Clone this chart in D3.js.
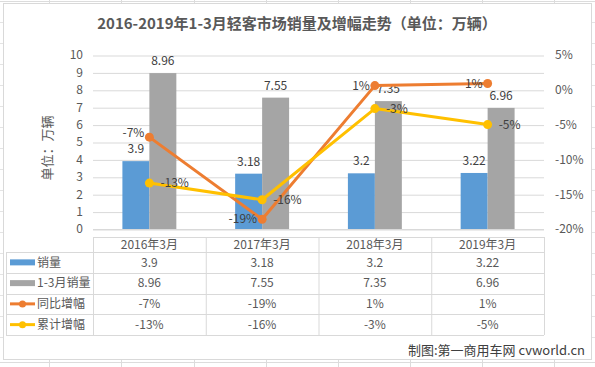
<!DOCTYPE html>
<html><head><meta charset="utf-8">
<script src="https://cdn.jsdelivr.net/npm/d3@7"></script>
<style>
html,body{margin:0;padding:0;background:#fff;}
svg{display:block;font-family:"Noto Sans CJK SC","Noto Sans",sans-serif;}
</style></head>
<body><svg id="c" width="595" height="367"></svg>
<script>
const categories = ["2016年3月","2017年3月","2018年3月","2019年3月"];
const sales = [3.9, 3.18, 3.2, 3.22];
const cumSales = [8.96, 7.55, 7.35, 6.96];
const yoyGrowth = [-6.8, -18.6, 0.6, 0.9];
const cumGrowth = [-13.4, -15.8, -2.7, -5.0];
const leftTicks = [0,1,2,3,4,5,6,7,8,9,10];
const rightTicks = [5,0,-5,-10,-15,-20];
const seriesNames = ["销量","1-3月销量","同比增幅","累计增幅"];
const title = "2016-2019年1-3月轻客市场销量及增幅走势（单位：万辆）";
const yTitle = "单位：万辆";
const footer = "制图:第一商用车网 cvworld.cn";

const colors = {blue:"#5B9BD5", gray:"#A5A5A5", orange:"#ED7D31", yellow:"#FFC000"};
const grid = "#d9d9d9", axisText = "#595959", labelText = "#404040";

const svg = d3.select("#c");

// spreadsheet background grid
const bg = svg.append("g");
[49,121,194,266,338,410,482,554].forEach(x=>bg.append("line").attr("x1",x+0.5).attr("x2",x+0.5).attr("y1",0).attr("y2",367).attr("stroke","#dcdcdc"));
[1,362].forEach(y=>bg.append("line").attr("x1",0).attr("x2",595).attr("y1",y+0.5).attr("y2",y+0.5).attr("stroke","#dcdcdc"));
[22,43,64,85,106,127,148,169,190,211,232,253,274,295,316,337].forEach(y=>bg.append("line").attr("x1",0).attr("x2",595).attr("y1",y+0.5).attr("y2",y+0.5).attr("stroke","#e4e4e4"));

// chart area
svg.append("rect").attr("x",3.5).attr("y",3.5).attr("width",588).attr("height",356).attr("fill","#fff").attr("stroke",grid);

svg.append("text").attr("x",297).attr("y",29).attr("text-anchor","middle")
  .attr("font-size",15).attr("font-weight","bold").attr("fill",axisText).text(title);

const x0 = 93, x1 = 544, yTop = 55, yBot = 229;
const x = d3.scaleBand().domain(categories).range([x0,x1]).paddingInner(0).paddingOuter(0);
const xs = d3.scaleBand().domain(["s","c"]).range([0,x.bandwidth()]).paddingInner(0).paddingOuter(1.09);
const yL = d3.scaleLinear().domain([0,10]).range([yBot,yTop]);
const yR = d3.scaleLinear().domain([-20,5]).range([yBot,yTop]);

// gridlines
const gl = svg.append("g").attr("transform",`translate(${x0},0)`)
  .call(d3.axisLeft(yL).tickValues(leftTicks).tickSize(-(x1-x0)).tickFormat(""));
gl.select(".domain").remove();
gl.selectAll("line").attr("stroke",grid).attr("transform","translate(0,0.5)");

// left axis labels
const la = svg.append("g").attr("transform",`translate(${x0},0)`)
  .call(d3.axisLeft(yL).tickValues(leftTicks).tickSize(0).tickPadding(10));
la.select(".domain").remove();
la.selectAll("text").attr("font-size",12).attr("fill",axisText).attr("font-family","Noto Sans CJK SC");

// right axis labels
const ra = svg.append("g").attr("transform",`translate(${x1},0)`)
  .call(d3.axisRight(yR).tickValues(rightTicks).tickSize(0).tickPadding(11).tickFormat(d=>d+"%"));
ra.select(".domain").remove();
ra.selectAll("text").attr("font-size",12).attr("fill",axisText).attr("font-family","Noto Sans CJK SC");

svg.append("text").attr("transform",`translate(52,${(yTop+yBot)/2+6}) rotate(-90)`)
  .attr("text-anchor","middle").attr("font-size",13).attr("fill",axisText).text(yTitle);

// bars
const bars = svg.append("g");
const barLabelCenter = [];
categories.forEach((c,i)=>{
  [["s",sales[i],colors.blue],["c",cumSales[i],colors.gray]].forEach(([k,v,col])=>{
    const bx = x(c)+xs(k);
    bars.append("rect").attr("x",bx).attr("y",yL(v)).attr("width",xs.bandwidth()).attr("height",yBot-yL(v)).attr("fill",col);
    bars.append("text").attr("x",bx+xs.bandwidth()/2).attr("y",yL(v)-8).attr("text-anchor","middle")
      .attr("font-size",12).attr("fill",labelText).text(v);
    if(k==="s") barLabelCenter[i] = yL(v)-12;
  });
});

// axis line
svg.append("line").attr("x1",x0).attr("x2",x1).attr("y1",yBot+0.5).attr("y2",yBot+0.5).attr("stroke",grid);

// lines
const cx = c => x(c)+x.bandwidth()/2;
function drawLine(vals,col,side){
  const line = d3.line().x((d,i)=>cx(categories[i])).y(d=>yR(d));
  svg.append("path").datum(vals).attr("d",line).attr("fill","none").attr("stroke",col).attr("stroke-width",3).attr("stroke-linejoin","round");
  vals.forEach((v,i)=>{
    svg.append("circle").attr("cx",cx(categories[i])).attr("cy",yR(v)).attr("r",4.5).attr("fill",col);
  });
  vals.forEach((v,i)=>{
    let ly = yR(v);
    // avoid collision with the blue bar's value label (left-side labels)
    if(side<0 && Math.abs(ly-barLabelCenter[i])<16) ly = barLabelCenter[i]-16;
    svg.append("text").attr("x",cx(categories[i])+(side<0?-5:11)).attr("y",ly).attr("dy","0.35em")
      .attr("text-anchor",side<0?"end":"start").attr("font-size",12).attr("fill",labelText).text(Math.round(v)+"%");
  });
}
drawLine(yoyGrowth,colors.orange,-1);
drawLine(cumGrowth,colors.yellow,1);

// data table
const tb = svg.append("g");
const tl = 6, hTop = 237, hBot = 252, rowH = 20.75;
const rowY = d3.range(5).map(i=>hBot+i*rowH);
tb.append("line").attr("x1",x0).attr("x2",x1).attr("y1",hTop+0.5).attr("y2",hTop+0.5).attr("stroke",grid);
rowY.forEach(y=>tb.append("line").attr("x1",tl).attr("x2",x1).attr("y1",Math.round(y)+0.5).attr("y2",Math.round(y)+0.5).attr("stroke",grid));
tb.append("line").attr("x1",tl+0.5).attr("x2",tl+0.5).attr("y1",hBot).attr("y2",rowY[4]).attr("stroke",grid);
[x0,...categories.map(c=>x(c)+x.bandwidth())].forEach(xx=>tb.append("line").attr("x1",xx+0.5).attr("x2",xx+0.5).attr("y1",hTop).attr("y2",rowY[4]).attr("stroke",grid));
categories.forEach(c=>tb.append("text").attr("x",cx(c)).attr("y",(hTop+hBot)/2).attr("dy","0.35em").attr("text-anchor","middle").attr("font-size",12).attr("fill",axisText).text(c));
const rows = [sales.map(String), cumSales.map(String), yoyGrowth.map(v=>Math.round(v)+"%"), cumGrowth.map(v=>Math.round(v)+"%")];
const rowCols = [colors.blue,colors.gray,colors.orange,colors.yellow];
rows.forEach((r,ri)=>{
  const yc = rowY[ri]+rowH/2;
  r.forEach((t,ci)=>tb.append("text").attr("x",cx(categories[ci])).attr("y",yc).attr("dy","0.35em").attr("text-anchor","middle").attr("font-size",12).attr("fill",axisText).text(t));
  if(ri<2){
    tb.append("rect").attr("x",10).attr("y",yc-3).attr("width",25).attr("height",6).attr("fill",rowCols[ri]);
  } else {
    tb.append("line").attr("x1",10).attr("x2",35).attr("y1",yc).attr("y2",yc).attr("stroke",rowCols[ri]).attr("stroke-width",3);
    tb.append("circle").attr("cx",22.5).attr("cy",yc).attr("r",3.5).attr("fill",rowCols[ri]);
  }
  tb.append("text").attr("x",37).attr("y",yc).attr("dy","0.35em").attr("font-size",12).attr("fill",axisText).text(seriesNames[ri]);
});

svg.append("text").attr("x",585).attr("y",355).attr("text-anchor","end").attr("font-size",13).attr("fill",labelText).text(footer);
</script></body></html>
